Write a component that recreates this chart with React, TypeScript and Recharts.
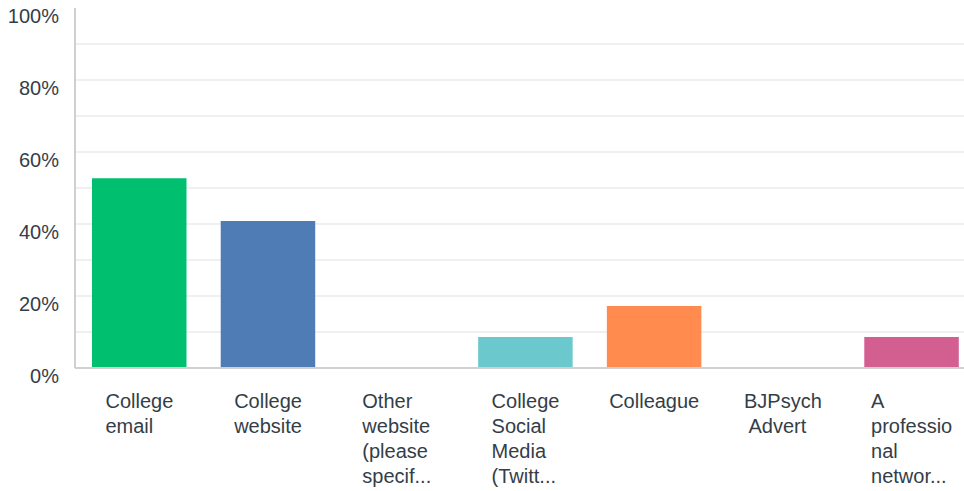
import React from 'react';
import { BarChart, Bar, XAxis, YAxis, CartesianGrid, Cell } from 'recharts';

const categories = [
  'College\nemail',
  'College\nwebsite',
  'Other\nwebsite\n(please\nspecif...',
  'College\nSocial\nMedia\n(Twitt...',
  'Colleague',
  'BJPsych\n Advert',
  'A\nprofessio\nnal\nnetwor...',
];
const values = [52.7, 40.8, 0, 8.6, 17.2, 0, 8.6];
const colors = ['#00bf6f', '#507cb6', '#6bc8cd', '#6bc8cd', '#ff8b4f', '#d25f90', '#d25f90'];
const yTicks = [0, 20, 40, 60, 80, 100];
const gridValues = [10, 20, 30, 40, 50, 60, 70, 80, 90];

const data = categories.map((c, i) => ({ name: c, value: values[i] }));

const FONT = '"Liberation Sans", Arial, Helvetica, sans-serif';
const FS = 20;
const TEXT = '#333e48';

let ctx: CanvasRenderingContext2D | null = null;
function measure(s: string): number {
  if (!ctx) {
    const c = document.createElement('canvas');
    ctx = c.getContext('2d');
  }
  if (!ctx) return s.length * FS * 0.55;
  ctx.font = `${FS}px ${FONT}`;
  return ctx.measureText(s).width;
}

const XTick = (props: any) => {
  const { x, y, payload } = props;
  const lines = String(payload.value).split('\n');
  const w = Math.max(...lines.map(measure));
  const left = x - w / 2;
  return (
    <text
      x={left}
      y={y}
      fill={TEXT}
      fontFamily={FONT}
      fontSize={FS}
      textAnchor="start"
      style={{ whiteSpace: 'pre' }}
    >
      {lines.map((l, i) => (
        <tspan key={i} x={left} y={y + 40 + i * 25} style={{ whiteSpace: 'pre' }}>
          {l}
        </tspan>
      ))}
    </text>
  );
};

const YTick = (props: any) => {
  const { x, y, payload } = props;
  return (
    <text x={x} y={y + 15} fill={TEXT} fontFamily={FONT} fontSize={FS} textAnchor="end">
      {`${payload.value}%`}
    </text>
  );
};

export default function App() {
  return (
    <div
      style={{
        position: 'absolute',
        left: 0,
        top: 0,
        width: 964,
        height: 491,
        overflow: 'hidden',
        background: '#fff',
      }}
    >
      <BarChart
        width={976}
        height={491}
        data={data}
        margin={{ top: 8, right: 0, left: 0, bottom: 0 }}
      >
        <CartesianGrid
          vertical={false}
          horizontalValues={gridValues}
          stroke="#ebebeb"
          strokeWidth={1.5}
        />
        <XAxis
          dataKey="name"
          interval={0}
          height={123}
          tickLine={false}
          tickSize={0}
          tickMargin={0}
          axisLine={{ stroke: '#d0d0d0', strokeWidth: 2 }}
          tick={<XTick />}
        />
        <YAxis
          width={75}
          domain={[0, 100]}
          ticks={yTicks}
          interval={0}
          tickLine={false}
          tickSize={0}
          tickMargin={16}
          axisLine={{ stroke: '#d0d0d0', strokeWidth: 2 }}
          tick={<YTick />}
        />
        <Bar dataKey="value" barSize={94.5} isAnimationActive={false}>
          {data.map((d, i) => (
            <Cell key={i} fill={colors[i]} />
          ))}
        </Bar>
      </BarChart>
    </div>
  );
}
